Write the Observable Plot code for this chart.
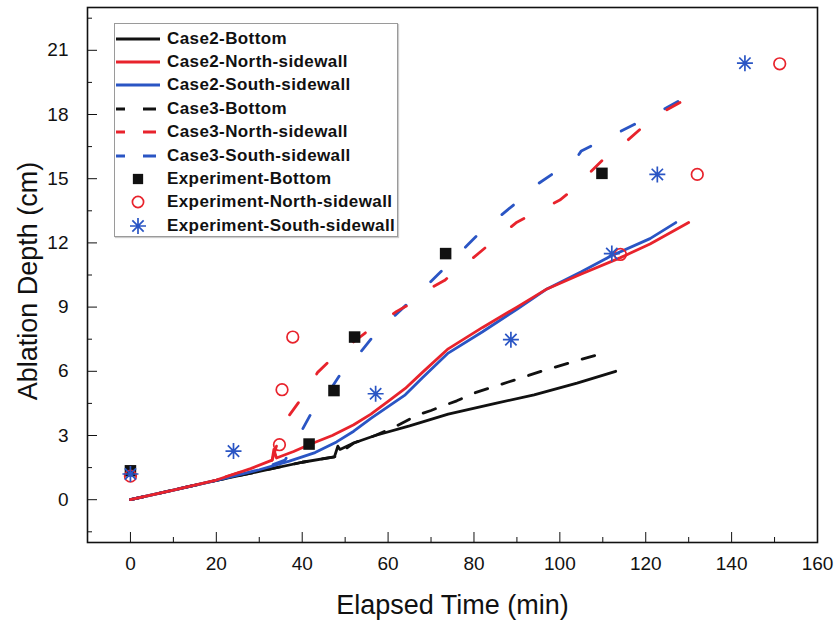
<!DOCTYPE html>
<html><head><meta charset="utf-8">
<script src="https://cdn.jsdelivr.net/npm/d3@7"></script>
<script src="https://cdn.jsdelivr.net/npm/@observablehq/plot@0.6"></script>
<style>
body{margin:0;background:#fff;}
#wrap{position:relative;width:835px;height:623px;font-family:"Liberation Sans",Arial,sans-serif;}
#legend{position:absolute;left:114px;top:23px;width:284px;height:214px;border:1px solid #9a9a9a;background:#fff;box-sizing:border-box;box-shadow:1px 1px 1px #ccc;}
.row{position:absolute;left:0;height:24px;display:flex;align-items:center;font:bold 17px "Liberation Sans",Arial,sans-serif;letter-spacing:0.4px;color:#111;white-space:nowrap;}
.row svg{flex:none;margin-right:2px;}
</style>
</head><body>
<div id="wrap"><div id="chart"></div><div id="legend"></div></div>
<script>
// ---- data ----
const case2BottomT = [0, 10, 20, 30, 40, 47.5, 48.3, 48.8, 52, 57, 65, 74, 85, 94, 104, 113];
const case2BottomD = [0, 0.45, 0.9, 1.32, 1.75, 2.0, 2.5, 2.35, 2.65, 3.0, 3.45, 4.0, 4.5, 4.9, 5.45, 6.0];

const case2NorthT = [0, 10, 20, 28, 33, 33.4, 34, 38, 42, 47, 52, 56, 60, 64, 68, 74, 82, 90, 97, 105, 114, 121, 130];
const case2NorthD = [0, 0.45, 0.92, 1.45, 1.85, 2.35, 1.95, 2.25, 2.6, 3.0, 3.5, 4.0, 4.6, 5.2, 5.95, 7.05, 8.05, 9.0, 9.85, 10.55, 11.3, 11.95, 12.95];

const case2SouthT = [0, 10, 20, 30, 37, 43, 48, 52, 56, 60, 64, 68, 74, 82, 90, 97, 105, 112, 121, 127];
const case2SouthD = [0, 0.45, 0.9, 1.4, 1.8, 2.2, 2.7, 3.2, 3.8, 4.35, 4.9, 5.7, 6.85, 7.85, 8.9, 9.85, 10.65, 11.4, 12.2, 12.95];

const case3BottomT = [0, 20, 40, 47.5, 52, 57, 62, 67, 70, 73, 76, 80, 88, 96, 104, 111];
const case3BottomD = [0, 0.9, 1.75, 2.0, 2.65, 3.0, 3.45, 3.97, 4.17, 4.4, 4.62, 4.98, 5.5, 6.02, 6.5, 6.9];

const case3NorthT = [0, 10, 20, 28, 33, 34, 37, 39, 43.6, 46.7, 56, 58.8, 62, 64.3, 70, 73.2, 76.3, 78, 83.7, 86.8, 90, 100, 102.8, 110.6, 113, 122, 132];
const case3NorthD = [0, 0.45, 0.92, 1.45, 1.85, 2.5, 3.95, 4.5, 5.95, 6.55, 8.0, 8.35, 8.8, 9.05, 9.9, 10.25, 10.8, 11.0, 11.95, 12.45, 12.97, 14.0, 14.45, 16.0, 16.3, 17.9, 19.0];

const case3SouthT = [0, 10, 20, 30, 36, 38, 42, 44.5, 49, 52, 58, 61, 68.5, 71.5, 78.5, 81.5, 90, 93, 104, 105, 113, 122, 131];
const case3SouthD = [0, 0.45, 0.9, 1.4, 1.85, 2.54, 4.0, 4.5, 5.9, 6.5, 8.0, 8.5, 9.9, 10.5, 11.9, 12.5, 13.9, 14.5, 16.0, 16.3, 17.1, 18.0, 19.0];

const expBottomT = [0, 41.6, 47.4, 52.2, 73.4, 109.8];
const expBottomD = [1.35, 2.6, 5.1, 7.6, 11.5, 15.25];

const expNorthT = [0, 34.7, 35.3, 37.8, 114.1, 132.0, 151.2];
const expNorthD = [1.1, 2.57, 5.14, 7.6, 11.46, 15.2, 20.37];

const expSouthT = [0, 24.0, 57.1, 88.6, 112.1, 122.7, 143.1];
const expSouthD = [1.2, 2.27, 4.95, 7.48, 11.5, 15.2, 20.4];

const xMajorTicks = [0, 20, 40, 60, 80, 100, 120, 140, 160];
const xMinorTicks = [10, 30, 50, 70, 90, 110, 130, 150];
const yMajorTicks = [0, 3, 6, 9, 12, 15, 18, 21];
const yMinorTicks = [-1.5, 1.5, 4.5, 7.5, 10.5, 13.5, 16.5, 19.5, 22.5];

const legendLabels = ["Case2-Bottom", "Case2-North-sidewall", "Case2-South-sidewall",
  "Case3-Bottom", "Case3-North-sidewall", "Case3-South-sidewall",
  "Experiment-Bottom", "Experiment-North-sidewall", "Experiment-South-sidewall"];

// ---- styles ----
const BLACK = "#111111", RED = "#e8232c", BLUE = "#2a55c4";
const DASH_COLOR = "15,34";
const DASH_BLACK = "13,15";

const zip = (t, d) => t.map((v, i) => ({t: v, d: d[i]}));

const asterisk8 = {
  draw(ctx, size) {
    const r = Math.sqrt(size / Math.PI);
    const a = r * Math.SQRT1_2;
    ctx.moveTo(-r, 0); ctx.lineTo(r, 0);
    ctx.moveTo(0, -r); ctx.lineTo(0, r);
    ctx.moveTo(-a, -a); ctx.lineTo(a, a);
    ctx.moveTo(-a, a); ctx.lineTo(a, -a);
  }
};

const lineSeries = [
  {t: case3BottomT, d: case3BottomD, c: BLACK, dash: DASH_BLACK},
  {t: case3SouthT, d: case3SouthD, c: BLUE, dash: DASH_COLOR},
  {t: case3NorthT, d: case3NorthD, c: RED, dash: DASH_COLOR},
  {t: case2BottomT, d: case2BottomD, c: BLACK, dash: null},
  {t: case2SouthT, d: case2SouthD, c: BLUE, dash: null},
  {t: case2NorthT, d: case2NorthD, c: RED, dash: null}
];

const font = '"Liberation Sans", Arial, sans-serif';

const plot = Plot.plot({
  width: 835,
  height: 623,
  marginLeft: 87,
  marginRight: 18,
  marginTop: 7,
  marginBottom: 81,
  x: {domain: [-10, 160]},
  y: {domain: [-2, 23]},
  style: {fontFamily: font, color: "#111", background: "#fff", fontSize: "19px"},
  marks: [
    ...lineSeries.map(s => Plot.line(zip(s.t, s.d), {
      x: "t", y: "d", stroke: s.c, strokeWidth: 2.8,
      strokeDasharray: s.dash || undefined, strokeLinejoin: "round", curve: "linear"
    })),
    Plot.dot(zip(expBottomT, expBottomD), {x: "t", y: "d", symbol: "square", fill: BLACK, r: 6.5}),
    Plot.dot(zip(expNorthT, expNorthD), {x: "t", y: "d", symbol: "circle", stroke: RED, fill: "white", fillOpacity: 0, strokeWidth: 1.7, r: 5.8}),
    Plot.dot(zip(expSouthT, expSouthD), {x: "t", y: "d", symbol: asterisk8, stroke: BLUE, fill: "none", strokeWidth: 1.7, r: 8}),
    Plot.frame({stroke: "#111", strokeWidth: 1.6}),
    Plot.axisX(xMajorTicks, {tickSize: -10, tickPadding: 24, label: null, fontSize: 19}),
    Plot.axisX(xMinorTicks, {tickSize: -5, tickFormat: () => "", label: null}),
    Plot.axisY(yMajorTicks, {tickSize: -10, tickPadding: 29, label: null, fontSize: 19}),
    Plot.axisY(yMinorTicks, {tickSize: -5, tickFormat: () => "", label: null}),
    Plot.text(["Elapsed Time (min)"], {frameAnchor: "bottom", dy: 63, lineAnchor: "middle", textAnchor: "middle", fontSize: 27}),
    Plot.text(["Ablation Depth (cm)"], {frameAnchor: "left", dx: -59, dy: 6, rotate: -90, lineAnchor: "middle", textAnchor: "middle", fontSize: 27})
  ]
});
document.getElementById("chart").appendChild(plot);

// ---- legend (HTML overlay) ----
const legendKinds = [
  {c: BLACK, kind: "solid"}, {c: RED, kind: "solid"}, {c: BLUE, kind: "solid"},
  {c: BLACK, kind: "dash"}, {c: RED, kind: "dash"}, {c: BLUE, kind: "dash"},
  {c: BLACK, kind: "square"}, {c: RED, kind: "circle"}, {c: BLUE, kind: "asterisk"}
];
const legend = document.getElementById("legend");
const ns = "http://www.w3.org/2000/svg";
legendLabels.forEach((lab, i) => {
  const row = document.createElement("div");
  row.className = "row";
  row.style.top = (2.5 + i * 23.4) + "px";
  const svg = document.createElementNS(ns, "svg");
  svg.setAttribute("width", 50); svg.setAttribute("height", 24);
  const k = legendKinds[i];
  const el = document.createElementNS(ns, "path");
  if (k.kind === "solid" || k.kind === "dash") {
    el.setAttribute("d", k.kind === "solid" ? "M1,12H45" : "M1,12H10M28,12H41");
    el.setAttribute("stroke", k.c); el.setAttribute("stroke-width", 2.8); el.setAttribute("fill", "none");
  } else {
    el.setAttribute("transform", "translate(23,12)");
    if (k.kind === "square") {
      el.setAttribute("d", d3.symbol(d3.symbolSquare, Math.PI * 5.8 * 5.8)());
      el.setAttribute("fill", k.c);
    } else if (k.kind === "circle") {
      el.setAttribute("d", d3.symbol(d3.symbolCircle, Math.PI * 5.6 * 5.6)());
      el.setAttribute("fill", "none"); el.setAttribute("stroke", k.c); el.setAttribute("stroke-width", 1.7);
    } else {
      el.setAttribute("d", d3.symbol(asterisk8, Math.PI * 8 * 8)());
      el.setAttribute("fill", "none"); el.setAttribute("stroke", k.c); el.setAttribute("stroke-width", 1.7);
    }
  }
  svg.appendChild(el);
  row.appendChild(svg);
  const span = document.createElement("span");
  span.textContent = lab;
  row.appendChild(span);
  legend.appendChild(row);
});
</script>
</body></html>
